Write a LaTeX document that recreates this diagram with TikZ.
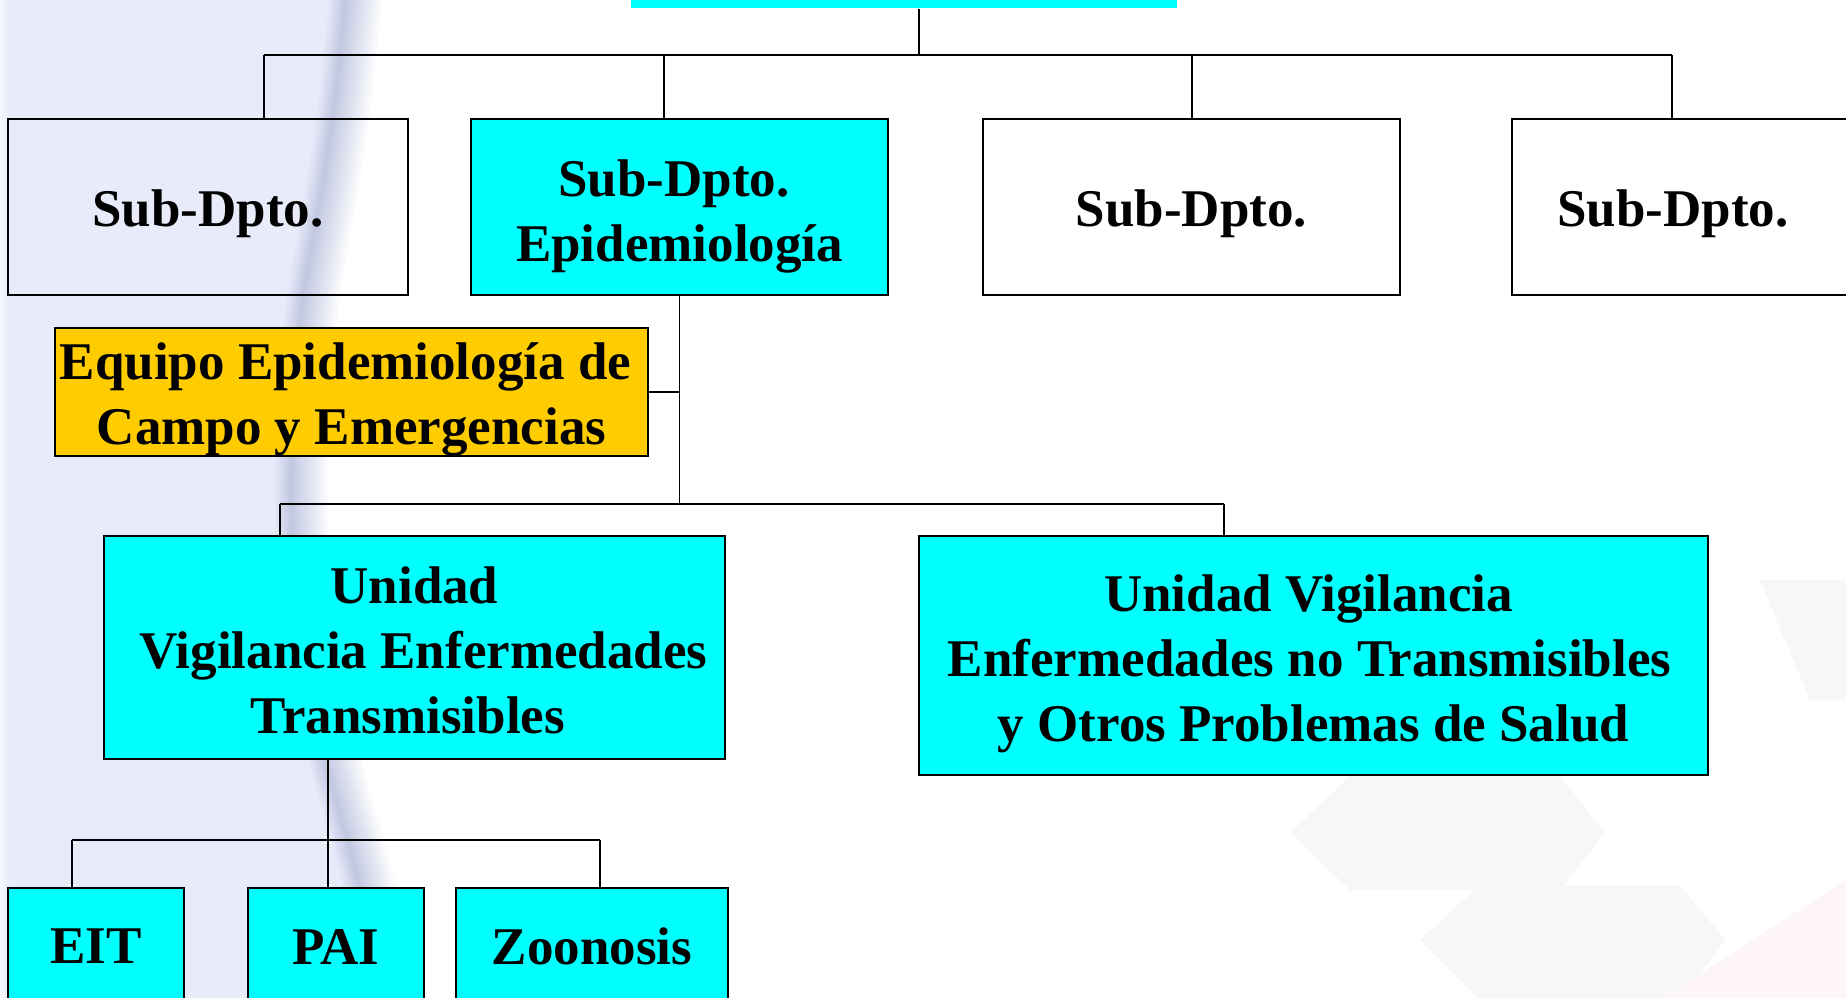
\documentclass[tikz,border=0pt]{standalone}
\usepackage{fontspec}
\setmainfont{Liberation Serif}
\definecolor{cy}{HTML}{00FFFF}
\definecolor{gold}{HTML}{FFCC00}
\definecolor{bgl}{HTML}{E8ECFA}
\definecolor{band}{HTML}{C2C8E2}
\definecolor{wmgray}{HTML}{F7F7F9}
\definecolor{wmpink}{HTML}{FDF5F6}
\newcommand\lw[2]{\raisebox{-#1pt}[\height][\depth]{#2}}
\tikzset{
  box/.style={draw=black, line width=2pt, inner sep=0pt, align=center,
    font=\fontsize{53}{65}\selectfont\bfseries},
  cybox/.style={box, fill=cy},
  wire/.style={line width=1.8pt, black},
}
\begin{document}
\begin{tikzpicture}[x=1pt,y=-1pt]
\useasboundingbox (0,0) rectangle (1846,997);
\clip (0,0) rectangle (1846,997);
\fill[white] (0,0) rectangle (1846,997);
% background: lavender panel with curved shaded edge
\fill[bgl] (0,-5) -- plot[smooth] coordinates {(346,-5) (335,100) (320,200) (303,300) (294,400) (291,500) (298,620) (315,720) (330,780) (350,850) (362,900) (382,1005)} -- (0,1005) -- cycle;
\foreach \d in {-16,-14,...,-2}{
  \pgfmathtruncatemacro\p{(\d+18)*100/18}
  \draw[band!\p!bgl, line width=2.4pt, xshift=\d pt] plot[smooth] coordinates {(346,-5) (335,100) (320,200) (303,300) (294,400) (291,500) (298,620) (315,720) (330,780) (350,850) (362,900) (382,1005)};
}
\foreach \d in {36,34,...,0}{
  \pgfmathtruncatemacro\p{100-\d*100/38}
  \draw[band!\p!white, line width=2.4pt, xshift=\d pt] plot[smooth] coordinates {(346,-5) (335,100) (320,200) (303,300) (294,400) (291,500) (298,620) (315,720) (330,780) (350,850) (362,900) (382,1005)};
}
\fill[left color=white!60!bgl, right color=bgl] (0,-5) rectangle (9,1005);
% faint watermark, bottom right
\fill[wmgray] (1290,833) -- (1350,776) -- (1560,776) -- (1605,833) -- (1560,890) -- (1350,890) -- cycle;
\fill[wmgray] (1420,940) -- (1480,885) -- (1680,885) -- (1725,940) -- (1680,1000) -- (1480,1000) -- cycle;
\fill[wmgray] (1760,580) -- (1846,580) -- (1846,700) -- (1810,700) -- cycle;
\fill[wmpink] (1660,1000) -- (1846,880) -- (1846,1000) -- cycle;

% nodes
\node[cybox, draw=none, minimum width=546pt, minimum height=40pt] (dir) at (904,-12) {};
\node[box, minimum width=400pt, minimum height=176pt] (s1) at (208,207) {\lw{7}{Sub-Dpto.}};
\node[cybox, minimum width=417pt, minimum height=176pt] (s2) at (679.5,207) {\lw{9}{Sub-Dpto.\kern11pt}\\\lw{9}{Epidemiología}};
\node[box, fill=white, minimum width=417pt, minimum height=176pt] (s3) at (1191.5,207) {\lw{7}{Sub-Dpto.}};
\node[box, fill=white, minimum width=417pt, minimum height=176pt] (s4) at (1720.5,207) {\lw{7}{Sub-Dpto.\kern95pt}};
\node[box, fill=gold, minimum width=593pt, minimum height=128pt] (eq) at (351.5,392) {\lw{7}{Equipo Epidemiología de\kern12pt}\\\lw{7}{Campo y Emergencias}};
\node[cybox, minimum width=621pt, minimum height=223pt] (vet) at (414.5,647.5) {\lw{3}{Unidad}\\\lw{3}{\kern18pt Vigilancia Enfermedades}\\\lw{3}{Transmisibles\kern13pt}};
\node[cybox, minimum width=789pt, minimum height=239pt] (vent) at (1313.5,655.5) {\lw{8}{Unidad Vigilancia\kern10pt}\\\lw{8}{Enfermedades no Transmisibles\kern8pt}\\\lw{8}{y Otros Problemas de Salud}};
\node[cybox, minimum width=176pt, minimum height=115pt] (eit) at (96,945.5) {\lw{1}{EIT}};
\node[cybox, minimum width=175.5pt, minimum height=115pt] (pai) at (335.75,945.5) {\lw{1}{PAI}};
\node[cybox, minimum width=272pt, minimum height=115pt] (zoo) at (592,945.5) {\lw{1}{Zoonosis}};

% connectors level 1
\coordinate (b1) at (919,55);
\coordinate (d1) at (264,55);
\coordinate (d2) at (664,55);
\coordinate (d3) at (1192,55);
\coordinate (d4) at (1672,55);
\draw[wire] (b1 |- dir.south) -- (b1);
\draw[wire] (d1) -- (d4);
\draw[wire] (d1) -- (d1 |- s1.north);
\draw[wire] (d2) -- (d2 |- s2.north);
\draw[wire] (d3) -- (d3 |- s3.north);
\draw[wire] (d4) -- (d4 |- s4.north);
% level 2
\coordinate (b2) at (680,504);
\coordinate (e1) at (280,504);
\coordinate (e2) at (1224,504);
\draw[wire] (s2.south) -- (s2.south |- b2);
\draw[wire] (eq.east) -- (eq.east -| s2.south);
\draw[wire] (e1) -- (e2);
\draw[wire] (e1) -- (e1 |- vet.north);
\draw[wire] (e2) -- (e2 |- vent.north);
% level 3
\coordinate (fc) at (328,840);
\coordinate (f1) at (72,840);
\coordinate (f2) at (600,840);
\draw[wire] (fc |- vet.south) -- (fc |- pai.north);
\draw[wire] (f1) -- (f2);
\draw[wire] (f1) -- (f1 |- eit.north);
\draw[wire] (f2) -- (f2 |- zoo.north);
\end{tikzpicture}
\end{document}
